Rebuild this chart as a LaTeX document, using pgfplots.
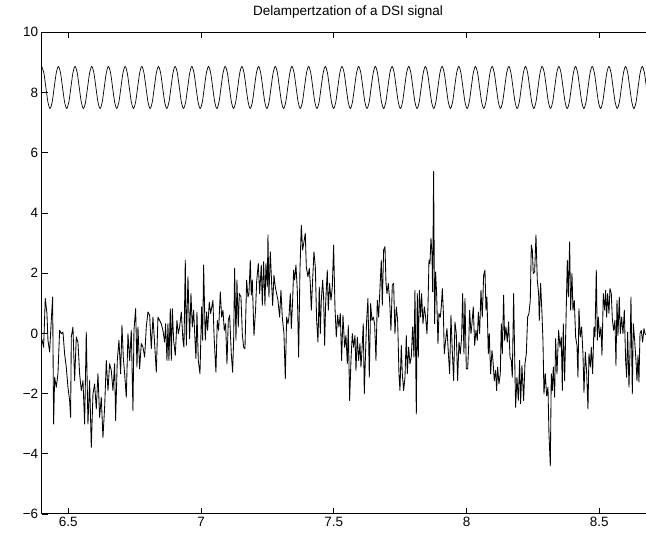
\documentclass[border=0pt]{standalone}
\usepackage{fontspec}
\setmainfont{Liberation Sans}
\usepackage{pgfplots}
\pgfplotsset{compat=1.18}

\begin{document}
\begin{tikzpicture}
\begin{axis}[
  scale only axis, width=604.3pt, height=481.7pt,
  xmin=6.4, xmax=8.676, ymin=-6, ymax=10,
  axis x line=box, axis y line*=left,
  axis line style={line width=1pt},
  xtick={6.5,7,7.5,8,8.5}, xticklabels={6.5,7,7.5,8,8.5},
  ytick={-6,-4,-2,0,2,4,6,8,10}, yticklabels={−6,−4,−2,0,2,4,6,8,10},
  tick align=inside, major tick length=6pt,
  tick style={line width=0.7pt, black},
  tick label style={font=\fontsize{13.5}{15}\selectfont},
  title={Delampertzation of a DSI signal},
  title style={font=\fontsize{13.5}{16}\selectfont, at={(0.507,1)}, anchor=base, yshift=10.3pt},
  clip=true]
% reference carrier
\addplot[black, line width=0.7pt, smooth] coordinates {
(6.4000,8.865) (6.4079,8.661) (6.4157,8.168) (6.4236,7.674) (6.4314,7.470) (6.4393,7.674) (6.4471,8.168) (6.4550,8.661)
(6.4628,8.865) (6.4707,8.661) (6.4785,8.168) (6.4864,7.674) (6.4942,7.470) (6.5021,7.674) (6.5099,8.168) (6.5178,8.661)
(6.5257,8.865) (6.5336,8.661) (6.5414,8.168) (6.5493,7.674) (6.5571,7.470) (6.5650,7.674) (6.5728,8.168) (6.5807,8.661)
(6.5885,8.865) (6.5964,8.661) (6.6042,8.168) (6.6121,7.674) (6.6199,7.470) (6.6278,7.674) (6.6356,8.168) (6.6435,8.661)
(6.6513,8.865) (6.6592,8.661) (6.6670,8.168) (6.6749,7.674) (6.6827,7.470) (6.6906,7.674) (6.6984,8.168) (6.7063,8.661)
(6.7142,8.865) (6.7221,8.661) (6.7299,8.168) (6.7378,7.674) (6.7456,7.470) (6.7535,7.674) (6.7613,8.168) (6.7692,8.661)
(6.7770,8.865) (6.7849,8.661) (6.7927,8.168) (6.8006,7.674) (6.8084,7.470) (6.8163,7.674) (6.8241,8.168) (6.8320,8.661)
(6.8398,8.865) (6.8477,8.661) (6.8555,8.168) (6.8634,7.674) (6.8712,7.470) (6.8791,7.674) (6.8869,8.168) (6.8948,8.661)
(6.9027,8.865) (6.9106,8.661) (6.9184,8.168) (6.9263,7.674) (6.9341,7.470) (6.9420,7.674) (6.9498,8.168) (6.9577,8.661)
(6.9655,8.865) (6.9734,8.661) (6.9812,8.168) (6.9891,7.674) (6.9969,7.470) (7.0048,7.674) (7.0126,8.168) (7.0205,8.661)
(7.0283,8.865) (7.0362,8.661) (7.0440,8.168) (7.0519,7.674) (7.0597,7.470) (7.0676,7.674) (7.0754,8.168) (7.0833,8.661)
(7.0912,8.865) (7.0991,8.661) (7.1069,8.168) (7.1148,7.674) (7.1226,7.470) (7.1305,7.674) (7.1383,8.168) (7.1462,8.661)
(7.1540,8.865) (7.1619,8.661) (7.1697,8.168) (7.1776,7.674) (7.1854,7.470) (7.1933,7.674) (7.2011,8.168) (7.2090,8.661)
(7.2168,8.865) (7.2247,8.661) (7.2325,8.168) (7.2404,7.674) (7.2482,7.470) (7.2561,7.674) (7.2639,8.168) (7.2718,8.661)
(7.2797,8.865) (7.2876,8.661) (7.2954,8.168) (7.3033,7.674) (7.3111,7.470) (7.3190,7.674) (7.3268,8.168) (7.3347,8.661)
(7.3425,8.865) (7.3504,8.661) (7.3582,8.168) (7.3661,7.674) (7.3739,7.470) (7.3818,7.674) (7.3896,8.168) (7.3975,8.661)
(7.4053,8.865) (7.4132,8.661) (7.4210,8.168) (7.4289,7.674) (7.4367,7.470) (7.4446,7.674) (7.4524,8.168) (7.4603,8.661)
(7.4681,8.865) (7.4760,8.661) (7.4838,8.168) (7.4917,7.674) (7.4995,7.470) (7.5074,7.674) (7.5152,8.168) (7.5231,8.661)
(7.5310,8.865) (7.5389,8.661) (7.5467,8.168) (7.5546,7.674) (7.5624,7.470) (7.5703,7.674) (7.5781,8.168) (7.5860,8.661)
(7.5938,8.865) (7.6017,8.661) (7.6095,8.168) (7.6174,7.674) (7.6252,7.470) (7.6331,7.674) (7.6409,8.168) (7.6488,8.661)
(7.6566,8.865) (7.6645,8.661) (7.6723,8.168) (7.6802,7.674) (7.6880,7.470) (7.6959,7.674) (7.7037,8.168) (7.7116,8.661)
(7.7195,8.865) (7.7274,8.661) (7.7352,8.168) (7.7431,7.674) (7.7509,7.470) (7.7588,7.674) (7.7666,8.168) (7.7745,8.661)
(7.7823,8.865) (7.7902,8.661) (7.7980,8.168) (7.8059,7.674) (7.8137,7.470) (7.8216,7.674) (7.8294,8.168) (7.8373,8.661)
(7.8451,8.865) (7.8530,8.661) (7.8608,8.168) (7.8687,7.674) (7.8765,7.470) (7.8844,7.674) (7.8922,8.168) (7.9001,8.661)
(7.9080,8.865) (7.9159,8.661) (7.9237,8.168) (7.9316,7.674) (7.9394,7.470) (7.9473,7.674) (7.9551,8.168) (7.9630,8.661)
(7.9708,8.865) (7.9787,8.661) (7.9865,8.168) (7.9944,7.674) (8.0022,7.470) (8.0101,7.674) (8.0179,8.168) (8.0258,8.661)
(8.0336,8.865) (8.0415,8.661) (8.0493,8.168) (8.0572,7.674) (8.0650,7.470) (8.0729,7.674) (8.0807,8.168) (8.0886,8.661)
(8.0965,8.865) (8.1044,8.661) (8.1122,8.168) (8.1201,7.674) (8.1279,7.470) (8.1358,7.674) (8.1436,8.168) (8.1515,8.661)
(8.1593,8.865) (8.1672,8.661) (8.1750,8.168) (8.1829,7.674) (8.1907,7.470) (8.1986,7.674) (8.2064,8.168) (8.2143,8.661)
(8.2221,8.865) (8.2300,8.661) (8.2378,8.168) (8.2457,7.674) (8.2535,7.470) (8.2614,7.674) (8.2692,8.168) (8.2771,8.661)
(8.2850,8.865) (8.2929,8.661) (8.3007,8.168) (8.3086,7.674) (8.3164,7.470) (8.3243,7.674) (8.3321,8.168) (8.3400,8.661)
(8.3478,8.865) (8.3557,8.661) (8.3635,8.168) (8.3714,7.674) (8.3792,7.470) (8.3871,7.674) (8.3949,8.168) (8.4028,8.661)
(8.4106,8.865) (8.4185,8.661) (8.4263,8.168) (8.4342,7.674) (8.4420,7.470) (8.4499,7.674) (8.4577,8.168) (8.4656,8.661)
(8.4735,8.865) (8.4814,8.661) (8.4892,8.168) (8.4971,7.674) (8.5049,7.470) (8.5128,7.674) (8.5206,8.168) (8.5285,8.661)
(8.5363,8.865) (8.5442,8.661) (8.5520,8.168) (8.5599,7.674) (8.5677,7.470) (8.5756,7.674) (8.5834,8.168) (8.5913,8.661)
(8.5991,8.865) (8.6070,8.661) (8.6148,8.168) (8.6227,7.674) (8.6305,7.470) (8.6384,7.674) (8.6462,8.168) (8.6541,8.661)
(8.6620,8.865) (8.6699,8.661) (8.6777,8.168)
};
% DSI signal
\addplot[black, line width=0.85pt, line join=round] coordinates {
(6.4010,-0.20) (6.4072,-0.46) (6.4135,1.16) (6.4198,0.66) (6.4236,-0.23) (6.4298,-0.62) (6.4361,0.43) (6.4411,1.21)
(6.4449,-3.01) (6.4487,-1.46) (6.4550,-1.79) (6.4612,-1.34) (6.4675,0.10) (6.4738,-0.01) (6.4801,0.04) (6.4863,-0.68)
(6.4926,-1.12) (6.4989,-1.79) (6.5052,-2.23) (6.5089,-2.79) (6.5115,-0.12) (6.5177,0.21) (6.5240,-1.57) (6.5303,-0.12)
(6.5366,-0.29) (6.5428,-1.34) (6.5491,-1.90) (6.5554,-1.57) (6.5617,-3.01) (6.5679,0.04) (6.5742,-3.01) (6.5805,-1.57)
(6.5868,-3.79) (6.5931,-2.01) (6.5993,-1.68) (6.6056,-2.51) (6.6119,-1.34) (6.6182,-2.79) (6.6244,-2.12) (6.6307,-3.46)
(6.6370,-2.46) (6.6433,-0.90) (6.6496,-1.90) (6.6558,-1.01) (6.6621,-1.23) (6.6684,-1.90) (6.6747,-1.01) (6.6784,-2.90)
(6.6847,-0.90) (6.6910,-0.23) (6.6973,-1.34) (6.7023,0.27) (6.7073,-0.79) (6.7123,-1.34) (6.7186,-2.12) (6.7249,-0.01)
(6.7312,-0.90) (6.7374,0.10) (6.7437,-2.57) (6.7475,0.10) (6.7538,0.82) (6.7588,-1.12) (6.7626,0.21) (6.7688,-1.18)
(6.7751,-0.34) (6.7814,-0.46) (6.7877,-0.79) (6.7939,0.21) (6.8002,0.71) (6.8065,0.60) (6.8128,-0.51) (6.8190,0.54)
(6.8253,-0.34) (6.8316,-1.29) (6.8379,0.54) (6.8442,0.43) (6.8504,0.32) (6.8567,0.10)
(6.8630,-0.29) (6.8667,0.32) (6.8718,-0.90) (6.8755,0.32) (6.8793,-0.90) (6.8843,0.82) (6.8881,-0.90) (6.8919,0.82)
(6.8969,-0.23) (6.9032,-0.73) (6.9094,0.43) (6.9145,-0.01) (6.9195,0.21) (6.9258,0.71) (6.9320,-0.23) (6.9358,-0.46)
(6.9408,2.43) (6.9446,-0.40) (6.9509,1.88) (6.9571,-0.18) (6.9622,1.32) (6.9672,0.21) (6.9722,0.77) (6.9772,-0.18)
(6.9810,-0.84) (6.9848,0.71) (6.9898,-0.90) (6.9961,-1.34) (7.0023,0.88) (7.0061,-0.23) (7.0099,2.27) (7.0161,-0.23)
(7.0212,0.71) (7.0249,0.10) (7.0312,1.04) (7.0362,0.66) (7.0450,1.10) (7.0488,-0.01) (7.0538,-0.90) (7.0563,-1.29)
(7.0613,0.43) (7.0664,0.10) (7.0726,1.38) (7.0777,0.54) (7.0827,0.77) (7.0877,0.10) (7.0927,0.32) (7.0978,-1.01)
(7.1028,0.43) (7.1078,0.60) (7.1141,-0.68) (7.1191,-1.29) (7.1229,-0.23) (7.1266,2.16) (7.1317,-0.23) (7.1354,1.77)
(7.1404,0.21) (7.1442,1.32) (7.1505,1.21) (7.1555,-0.01) (7.1605,-0.46) (7.1656,-0.51) (7.1718,1.77) (7.1769,1.21)
(7.1806,1.32) (7.1856,2.43) (7.1894,1.27) (7.1932,1.77) (7.1995,-0.07) (7.2057,0.82) (7.2095,1.71) (7.2158,2.32)
(7.2208,1.32) (7.2271,2.27) (7.2308,0.93) (7.2359,2.38) (7.2409,0.93) (7.2446,2.32) (7.2497,1.54) (7.2522,3.27)
(7.2559,1.21) (7.2610,2.71) (7.2660,1.66) (7.2698,0.93) (7.2748,1.93) (7.2798,1.54) (7.2848,1.32) (7.2898,1.10)
(7.2961,0.54) (7.3011,1.43) (7.3062,0.54) (7.3124,-0.01) (7.3175,-1.51) (7.3225,0.54) (7.3275,0.32)
(7.3313,0.54) (7.3363,1.32) (7.3401,0.16) (7.3451,1.10) (7.3488,2.10) (7.3526,1.77) (7.3576,2.27) (7.3627,1.43)
(7.3677,-0.79) (7.3727,2.10) (7.3777,3.60) (7.3827,2.77) (7.3878,3.04) (7.3928,3.32) (7.3966,2.21) (7.4028,1.88)
(7.4079,2.16) (7.4116,1.66) (7.4154,0.77) (7.4204,1.77) (7.4254,2.71) (7.4305,2.21) (7.4355,0.43) (7.4405,-0.29)
(7.4455,1.54) (7.4493,-0.01) (7.4531,1.10) (7.4581,1.77) (7.4618,1.21) (7.4656,-0.40) (7.4694,0.99) (7.4756,2.10)
(7.4794,0.77) (7.4844,1.66) (7.4895,1.10) (7.4945,1.54) (7.4995,2.93) (7.5045,0.88) (7.5095,-0.12) (7.5146,0.60)
(7.5196,0.21) (7.5246,0.66) (7.5296,-0.90) (7.5347,0.60) (7.5409,-0.46) (7.5460,-0.07) (7.5510,-1.01) (7.5547,0.27)
(7.5598,-2.23) (7.5648,-0.90) (7.5698,-0.01) (7.5748,-0.46) (7.5799,-0.07) (7.5836,-1.23) (7.5886,-0.12) (7.5937,-0.90)
(7.5987,-0.34) (7.6025,-1.12) (7.6062,-0.57) (7.6112,0.32) (7.6150,-2.01) (7.6200,-0.57) (7.6238,0.43) (7.6288,1.16)
(7.6338,-1.46) (7.6389,0.99) (7.6439,0.43) (7.6489,0.54) (7.6539,0.32) (7.6590,-0.90) (7.6640,1.10) (7.6690,0.54)
(7.6740,1.49) (7.6790,2.43) (7.6828,0.93) (7.6878,2.77) (7.6929,2.88) (7.6966,1.71) (7.7004,1.32) (7.7054,1.66)
(7.7104,1.10) (7.7154,0.10) (7.7205,1.60) (7.7255,1.66) (7.7305,-0.01) (7.7355,0.88) (7.7406,0.43) (7.7456,-1.34)
(7.7493,-1.90) (7.7544,-0.40) (7.7581,-1.34) (7.7632,-1.90) (7.7682,-1.46) (7.7732,-0.07) (7.7770,-1.34) (7.7820,-0.46)
(7.7870,-1.01) (7.7920,-0.79) (7.7971,0.21) (7.8021,-0.79) (7.8058,1.43) (7.8109,-2.68) (7.8146,1.32)
(7.8184,-0.79) (7.8222,1.43) (7.8272,0.54) (7.8309,1.32) (7.8360,0.32) (7.8410,0.88) (7.8460,0.54) (7.8510,-0.01)
(7.8548,0.88) (7.8586,2.43) (7.8623,2.32) (7.8661,3.16) (7.8699,2.66) (7.8724,1.38) (7.8761,5.38) (7.8799,0.32)
(7.8837,2.04) (7.8874,1.32) (7.8925,-0.34) (7.8962,0.66) (7.9013,0.54) (7.9050,0.88) (7.9088,1.49) (7.9126,0.77)
(7.9163,-0.68) (7.9213,-0.23) (7.9264,0.16) (7.9314,-0.62) (7.9364,-1.34) (7.9414,0.60) (7.9464,-0.57) (7.9515,-1.57)
(7.9565,0.38) (7.9615,-0.01) (7.9665,-1.57) (7.9716,-0.29) (7.9766,-0.68) (7.9816,-0.12) (7.9854,1.32) (7.9904,-0.68)
(7.9942,1.16) (7.9992,-1.18) (8.0042,-1.18) (8.0080,-0.46) (8.0117,0.77) (8.0168,-0.01) (8.0205,0.32) (8.0255,0.88)
(8.0306,-0.40) (8.0356,0.10) (8.0406,-0.23) (8.0444,0.71) (8.0494,-0.01) (8.0544,1.43) (8.0594,0.54) (8.0645,1.93)
(8.0695,2.10) (8.0733,0.77) (8.0770,1.21) (8.0820,-0.68) (8.0858,-0.01) (8.0908,-1.34) (8.0959,-0.57) (8.0996,-0.90)
(8.1046,-1.57) (8.1097,-1.23) (8.1134,-1.90) (8.1172,-1.12) (8.1222,-1.68) (8.1272,-1.34) (8.1310,0.32) (8.1348,-0.68)
(8.1398,1.27) (8.1436,-0.23) (8.1486,0.21) (8.1536,-0.29) (8.1586,0.38) (8.1637,-0.79) (8.1687,-0.90) (8.1724,-1.46)
(8.1775,1.32) (8.1812,-0.68) (8.1850,-2.46) (8.1900,-1.46) (8.1950,-2.23) (8.2001,-0.90) (8.2038,-2.34) (8.2088,-1.07)
(8.2151,-2.23) (8.2201,-1.01) (8.2252,-0.68) (8.2302,0.54) (8.2352,0.66) (8.2402,1.10) (8.2440,2.93) (8.2478,2.77)
(8.2515,1.99) (8.2566,2.04) (8.2616,3.27) (8.2666,1.77) (8.2716,1.32)
(8.2741,0.43) (8.2791,1.66) (8.2842,0.66) (8.2879,-0.23) (8.2917,-2.01) (8.2967,-1.34) (8.3017,-2.07) (8.3068,-1.79)
(8.3105,-3.34) (8.3156,-4.40) (8.3193,-1.34) (8.3231,-1.90) (8.3269,-1.12) (8.3319,-2.12) (8.3356,-0.18) (8.3407,-1.34)
(8.3469,0.10) (8.3520,-0.46) (8.3570,-0.12) (8.3608,-1.90) (8.3645,0.32) (8.3695,-1.57) (8.3746,0.38) (8.3796,2.43)
(8.3834,1.21) (8.3884,3.04) (8.3921,0.77) (8.3972,1.99) (8.4009,0.77) (8.4059,1.10) (8.4110,-0.12) (8.4160,-0.40)
(8.4198,-1.46) (8.4235,0.82) (8.4285,-0.12) (8.4336,0.21) (8.4386,-0.68) (8.4424,-1.96) (8.4474,-0.62) (8.4524,-1.29)
(8.4574,-2.51) (8.4612,-0.68) (8.4662,-1.12) (8.4700,-0.46) (8.4750,-1.34) (8.4800,0.21) (8.4838,-0.12) (8.4888,2.10)
(8.4926,-0.23) (8.4963,0.54) (8.5014,-0.12) (8.5064,0.21) (8.5102,-0.73) (8.5152,1.32) (8.5202,0.77) (8.5240,1.43)
(8.5277,0.54) (8.5315,1.32) (8.5365,0.66) (8.5403,1.49) (8.5453,1.32) (8.5491,0.49) (8.5541,0.10) (8.5591,0.43)
(8.5629,-1.07) (8.5667,1.10) (8.5704,-0.07) (8.5754,1.21) (8.5792,-0.01) (8.5842,0.54) (8.5893,-0.01) (8.5943,0.77)
(8.5993,-0.90) (8.6031,-1.46) (8.6068,0.04) (8.6119,-1.79) (8.6156,-0.68) (8.6194,1.21) (8.6244,-2.01) (8.6282,0.32)
(8.6332,-0.23) (8.6382,-0.90) (8.6420,-1.57) (8.6458,-0.73) (8.6495,-1.62) (8.6533,-0.01) (8.6583,0.10) (8.6633,-0.29)
(8.6684,0.16) (8.6721,-0.01) (8.6760,-0.05)
};
\end{axis}
\pgfresetboundingbox
\path ([shift={(-41.7pt,-21pt)}]current axis.south west) rectangle ([shift={(0pt,32.3pt)}]current axis.north east);
\end{tikzpicture}
\end{document}
